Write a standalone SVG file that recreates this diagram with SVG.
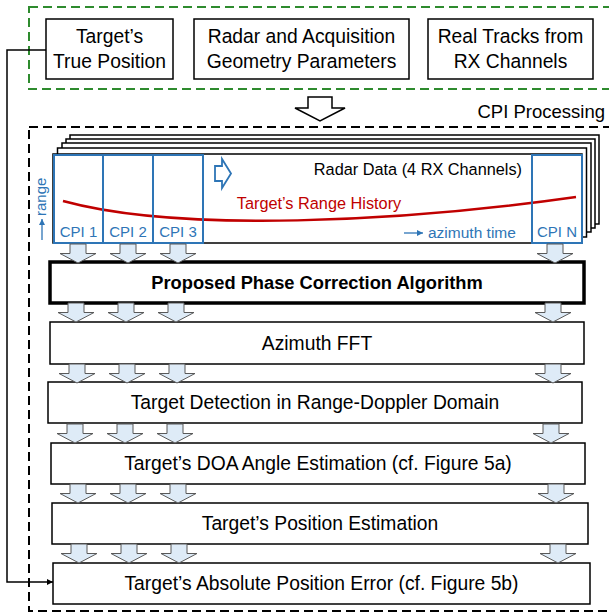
<svg xmlns="http://www.w3.org/2000/svg" xmlns:xlink="http://www.w3.org/1999/xlink" width="609" height="615" viewBox="0 0 609 615">
<defs>
<style>
text{font-family:"Liberation Sans",Arial,sans-serif;fill:#000}
.box{fill:#fff;stroke:#000;stroke-width:1.5}
.thick{fill:#fff;stroke:#000;stroke-width:3.5}
.t{font-size:19.3px;text-anchor:middle}
.tb{font-size:18.3px;font-weight:bold;text-anchor:middle}
.cpi{fill:none;stroke:#2E75B6;stroke-width:2}
.cl{font-size:15px;text-anchor:middle;fill:#2E75B6}
.layer{fill:#fff;stroke:#000;stroke-width:1.5}
.barr{fill:#DEEBF7;stroke:#595959;stroke-width:1}
</style>
<path id="ba" class="barr" d="M-8,0 H8 V9.5 H18 L0,19 L-18,9.5 H-8 Z"/>
<marker id="ah" viewBox="0 0 10 10" refX="10" refY="5" markerWidth="6" markerHeight="6" orient="auto" markerUnits="userSpaceOnUse">
<path d="M0,0 L10,5 L0,10 Z" fill="#000"/>
</marker>
<marker id="bh" viewBox="0 0 10 10" refX="10" refY="5" markerWidth="6" markerHeight="6" orient="auto" markerUnits="userSpaceOnUse">
<path d="M0,0 L10,5 L0,10 Z" fill="#2E75B6"/>
</marker>
</defs>

<g id="inputs-frame">
<rect x="29" y="7" width="600" height="82" fill="none" stroke="#2E8B2E" stroke-width="2" stroke-dasharray="9,5"/>
</g>

<g id="node-true-position">
<rect class="box" x="46" y="19" width="127" height="60"/>
<text class="t" x="109.5" y="43">Target’s</text>
<text class="t" x="109.5" y="68">True Position</text>
</g>
<g id="node-radar-params">
<rect class="box" x="194" y="19" width="215" height="60"/>
<text class="t" x="301.5" y="43">Radar and Acquisition</text>
<text class="t" x="301.5" y="68">Geometry Parameters</text>
</g>
<g id="node-real-tracks">
<rect class="box" x="428" y="19" width="165" height="60"/>
<text class="t" x="510.5" y="43">Real Tracks from</text>
<text class="t" x="510.5" y="68">RX Channels</text>
</g>

<g id="big-arrow">
<path d="M308,97 H332 V108 H345 L320,121 L295,108 H308 Z" fill="#fff" stroke="#000" stroke-width="1.5"/>
</g>

<g id="cpi-frame">
<rect x="29" y="127" width="600" height="484" fill="none" stroke="#000" stroke-width="2" stroke-dasharray="9,5"/>
<text x="605" y="118" style="font-size:18.5px;text-anchor:end">CPI Processing</text>
</g>

<g id="node-radar-data">
<rect class="layer" x="70" y="135" width="529" height="89"/>
<rect class="layer" x="66" y="139" width="529" height="89"/>
<rect class="layer" x="62" y="143" width="529" height="89"/>
<rect class="layer" x="57.5" y="148" width="529" height="89"/>
<rect class="layer" x="53" y="154" width="529" height="89"/>
<text x="522" y="175" style="font-size:16.3px;text-anchor:end">Radar Data (4 RX Channels)</text>
<path d="M63,201 C180,233 400,222 576,197" fill="none" stroke="#C00000" stroke-width="2.5"/>
<text x="319" y="209" style="font-size:16.3px;text-anchor:middle;fill:#C00000">Target’s Range History</text>
<path d="M215,166 H222 V159 L231,173.5 L222,188 V181 H215 Z" fill="#fff" stroke="#2E75B6" stroke-width="1.8"/>
<line x1="404" y1="233" x2="423" y2="233" stroke="#2E75B6" stroke-width="1.3" marker-end="url(#bh)"/>
<text x="428" y="238" style="font-size:15.5px;fill:#2E75B6">azimuth time</text>
<text transform="translate(46,216) rotate(-90)" style="font-size:15px;fill:#2E75B6">range</text>
<line x1="42" y1="240" x2="42" y2="219" stroke="#2E75B6" stroke-width="1.3" marker-end="url(#bh)"/>
<rect class="cpi" x="54" y="155" width="49" height="88"/>
<rect class="cpi" x="103" y="155" width="50" height="88"/>
<rect class="cpi" x="153" y="155" width="50" height="88"/>
<rect class="cpi" x="532" y="155" width="50" height="88"/>
<text class="cl" x="78.5" y="237">CPI 1</text>
<text class="cl" x="128" y="237">CPI 2</text>
<text class="cl" x="178" y="237">CPI 3</text>
<text class="cl" x="557" y="237">CPI N</text>
</g>

<g id="node-phase-correction">
<rect class="thick" x="50" y="262" width="534" height="41"/>
<text class="tb" x="317" y="289">Proposed Phase Correction Algorithm</text>
</g>
<g id="node-azimuth-fft">
<rect class="box" x="50" y="322" width="534" height="42"/>
<text class="t" x="317" y="350">Azimuth FFT</text>
</g>
<g id="node-detection">
<rect class="box" x="48" y="382" width="534" height="41"/>
<text class="t" x="315" y="409">Target Detection in Range-Doppler Domain</text>
</g>
<g id="node-doa">
<rect class="box" x="51" y="443" width="534" height="41"/>
<text class="t" x="318" y="470">Target’s DOA Angle Estimation (cf. Figure 5a)</text>
</g>
<g id="node-position">
<rect class="box" x="52" y="503" width="536" height="41"/>
<text class="t" x="320" y="530">Target’s Position Estimation</text>
</g>
<g id="node-error">
<rect class="box" x="53" y="563" width="537" height="41"/>
<text class="t" x="321.5" y="590">Target’s Absolute Position Error (cf. Figure 5b)</text>
</g>

<g id="connectors">
<polyline points="46,50 7,50 7,582 53,582" fill="none" stroke="#000" stroke-width="1.5" marker-end="url(#ah)"/>
<use xlink:href="#ba" x="78" y="244"/><use xlink:href="#ba" x="128" y="244"/><use xlink:href="#ba" x="178" y="244"/><use xlink:href="#ba" x="555" y="244"/>
<use xlink:href="#ba" x="76" y="303"/><use xlink:href="#ba" x="126" y="303"/><use xlink:href="#ba" x="176" y="303"/><use xlink:href="#ba" x="553" y="303"/>
<use xlink:href="#ba" x="77" y="364"/><use xlink:href="#ba" x="127" y="364"/><use xlink:href="#ba" x="177" y="364"/><use xlink:href="#ba" x="553" y="364"/>
<use xlink:href="#ba" x="75" y="424"/><use xlink:href="#ba" x="125" y="424"/><use xlink:href="#ba" x="175" y="424"/><use xlink:href="#ba" x="551" y="424"/>
<use xlink:href="#ba" x="78" y="484"/><use xlink:href="#ba" x="128" y="484"/><use xlink:href="#ba" x="178" y="484"/><use xlink:href="#ba" x="556" y="484"/>
<use xlink:href="#ba" x="79" y="544"/><use xlink:href="#ba" x="129" y="544"/><use xlink:href="#ba" x="179" y="544"/><use xlink:href="#ba" x="558" y="544"/>
</g>
</svg>
